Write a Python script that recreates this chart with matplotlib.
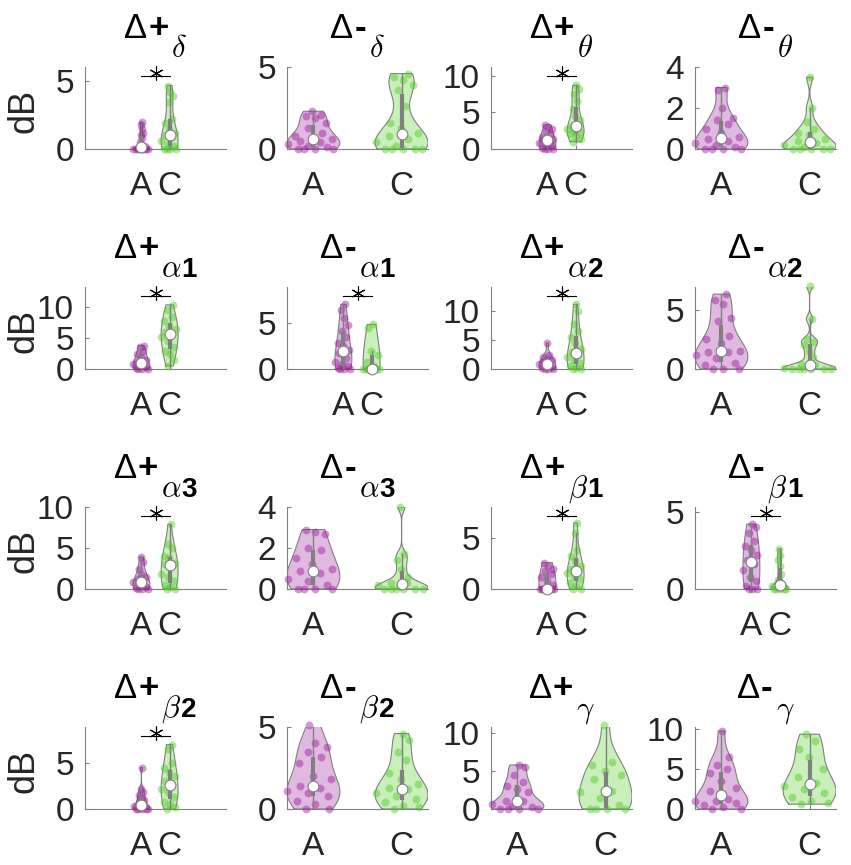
import numpy as np
import matplotlib.pyplot as plt
from matplotlib.transforms import offset_copy

plt.rcParams['font.family'] = ['Liberation Sans', 'DejaVu Sans']
plt.rcParams['mathtext.fontset'] = 'cm'

# panel labels (row-major, 4x4)
signs = ['+', '-'] * 8
greeks = [r'\delta', r'\delta', r'\theta', r'\theta', r'\alpha', r'\alpha', r'\alpha', r'\alpha',
          r'\alpha', r'\alpha', r'\beta', r'\beta', r'\beta', r'\beta', r'\gamma', r'\gamma']
digits = ['', '', '', '', '1', '1', '2', '2', '3', '3', '1', '1', '2', '2', '', '']
groups = ['A', 'C']

y_top = [6.07, 5, 11.2, 4, 13.3, 9.0, 14.2, 6.9, 10, 4, 8.06, 5.3, 8.9, 5, 10.8, 10.2]
y_ticks = [[0, 5], [0, 5], [0, 5, 10], [0, 2, 4], [0, 5, 10], [0, 5], [0, 5, 10], [0, 5],
           [0, 5, 10], [0, 2, 4], [0, 5], [0, 5], [0, 5], [0, 5], [0, 5, 10], [0, 5, 10]]
# significance bar height (None = no star)
star_y = [5.4, None, 10.0, None, 11.8, 8.0, 12.6, None, 8.9, None, 7.2, 4.7, 7.9, None, None, None]

a_vals = [
    [0, 0, 0, 0, 0, 0, 0, 0, 0.1, 0.2, 0.3, 0.5, 0.8, 1.0, 1.2, 1.5, 1.8, 2.0],
    [2.3, 2.1, 2.0, 1.9, 1.6, 1.3, 1.0, 0.8, 0.7, 0.6, 0.5, 0.4, 0.3, 0.2, 0, 0, 0, 0, 0.1],
    [3.3, 3.0, 2.8, 2.5, 2.0, 1.7, 1.5, 1.3, 1.2, 1.0, 0.8, 0.6, 0.4, 0.2, 0, 0, 0],
    [3.0, 2.9, 2.0, 1.5, 1.4, 1.2, 1.0, 0.1, 0.8, 0.6, 0.5, 0.4, 0.3, 0.2, 0, 0, 0, 0],
    [3.8, 3.5, 3.0, 2.5, 2.0, 1.5, 1.2, 1.0, 0.8, 0.5, 0.3, 0.1, 0, 0, 0],
    [7.1, 6.5, 5.6, 4.8, 4.2, 3.5, 2.8, 2.5, 2.1, 1.8, 1.2, 0.8, 0.6, 0.3, 0.1, 0, 0, 0],
    [4.5, 2.5, 2.0, 1.8, 1.5, 1.2, 1.0, 0.8, 0.6, 0.4, 0.2, 0, 0, 0],
    [6.3, 5.8, 5.5, 4.3, 4.0, 2.8, 2.5, 2.2, 1.45, 1.5, 1.4, 1.2, 0.9, 0.5, 0.3, 0, 0, 0],
    [3.9, 3.3, 2.5, 1.8, 1.5, 1.2, 1.0, 0.8, 0.5, 0.3, 0.1, 0, 0, 0],
    [2.9, 2.8, 2.7, 2.0, 1.9, 1.5, 1.2, 1.0, 0.9, 0.8, 0.5, 0.4, 0.2, 0, 0, 0, 0],
    [2.6, 2.3, 2.0, 1.8, 1.5, 1.2, 0.8, 0.4, 0, 0, 0, 0, 0, 0, 0, 0, 0],
    [4.2, 4.0, 3.6, 3.1, 2.8, 2.5, 2.2, 1.9, 1.6, 1.2, 0.8, 0.5, 0.2, 0, 0, 0],
    [4.5, 2.2, 1.8, 1.5, 1.2, 1.0, 0.8, 0.4, 0.3, 0.2, 0, 0, 0, 0, 0],
    [5.1, 4.0, 3.8, 3.5, 3.2, 2.8, 2.0, 1.8, 1.4, 1.3, 1.1, 1.0, 0.8, 0.5, 0.3, 0, 0],
    [5.8, 5.5, 4.5, 3.5, 3.0, 2.7, 2.3, 1.1, 1.0, 0.6, 0.4, 0.2, 0, 0, 0, 0],
    [9.7, 6.5, 5.5, 5.0, 4.5, 3.5, 2.6, 2.2, 1.2, 1.0, 1.0, 0.7, 0.5, 0.2, 0, 0],
]
c_vals = [
    [0, 0, 0, 0, 0.2, 0.4, 0.6, 0.9, 1.0, 1.2, 1.5, 1.9, 2.2, 3.5, 3.9, 4.2, 4.7],
    [4.6, 4.4, 4.2, 3.9, 3.6, 2.6, 1.6, 1.3, 1.0, 0.8, 0.6, 0.4, 0.2, 0, 0, 0, 0, 0],
    [8.7, 8.2, 7.5, 6.5, 5.5, 4.5, 4.0, 3.2, 3.0, 2.8, 2.5, 2.3, 2.0, 1.8, 1.3, 1.0],
    [3.5, 2.0, 1.3, 1.0, 0.8, 0.7, 0.5, 0.4, 0.3, 0.2, 0.1, 0, 0, 0, 0, 0],
    [10.4, 9.5, 8.5, 7.8, 7.0, 6.5, 6.0, 5.6, 5.2, 4.5, 3.5, 3.0, 2.5, 1.5, 0.5],
    [4.9, 4.5, 2.0, 1.5, 0.8, 0.3, 0, 0, 0, 0, 0, 0, 0],
    [11.2, 10.0, 7.8, 6.5, 5.5, 4.5, 3.5, 3.0, 2.5, 2.0, 1.5, 1.0, 0.5, 0.2, 0, 0],
    [7.0, 4.2, 2.5, 2.3, 2.0, 1.5, 1.0, 0.4, 0.3, 0.1, 0, 0, 0, 0, 0, 0],
    [7.9, 5.5, 5.0, 4.0, 3.8, 3.2, 3.0, 2.9, 1.8, 1.5, 1.0, 0.5, 0.2, 0, 0],
    [4.0, 1.7, 1.4, 1.0, 0.6, 0.3, 0.2, 0.3, 0, 0, 0, 0, 0, 0],
    [6.5, 5.5, 3.8, 3.2, 2.8, 2.3, 2.0, 1.8, 1.6, 1.3, 1.0, 0.6, 0.3, 0, 0],
    [2.6, 2.2, 1.9, 1.5, 1.0, 0.6, 0.3, 0.2, 0.1, 0, 0, 0, 0, 0],
    [7.0, 6.5, 5.0, 4.5, 4.0, 3.6, 3.0, 2.6, 2.2, 1.8, 1.3, 0.8, 0.5, 0.2, 0],
    [4.6, 4.2, 3.5, 3.0, 2.2, 1.8, 1.5, 1.3, 1.2, 1.0, 0.8, 0.6, 0.4, 0.2, 0.1, 0],
    [11.0, 6.2, 5.8, 5.0, 4.5, 4.0, 2.4, 2.3, 1.5, 0.5, 0, 0, 0, 0],
    [9.3, 8.5, 7.5, 6.5, 5.0, 4.0, 3.2, 2.9, 2.5, 2.0, 1.5, 1.0, 0.8, 0.6],
]

purple = (0.6, 0.1, 0.6)
green = (0.3, 0.8, 0.12)
grey = (0.5, 0.5, 0.5)

fig = plt.figure(figsize=(8.51, 8.65), dpi=100)
FW, FH = 851, 865
col_left = [85, 287, 491, 695]
row_base = [149, 369, 589, 809]
ax_w, ax_h = 141, 82


def violin(ax, vals, pos, color):
    v = np.sort(np.asarray(vals, float))
    n = len(v)
    # ksdensity-like bandwidth
    sig = np.median(np.abs(v - np.median(v))) / 0.6745
    if sig <= 0:
        sig = v.max() - v.min()
    bw = sig * (4 / (3 * n)) ** 0.2
    ys = np.linspace(v.min(), v.max(), 200)
    dens = np.exp(-0.5 * ((ys[:, None] - v[None, :]) / bw) ** 2).sum(axis=1)
    half = 0.3 * dens / dens.max()
    xs = np.concatenate([pos - half, (pos + half)[::-1]])
    yy = np.concatenate([ys, ys[::-1]])
    ax.fill(xs, yy, facecolor=color, alpha=0.3, edgecolor='none', zorder=1)
    ax.plot(np.append(xs, xs[0]), np.append(yy, yy[0]), color=grey, lw=0.8, zorder=2)

    # data points spread inside the violin
    w_at = np.interp(v, ys, half)
    jit = ((np.arange(n) * 0.618034 + 0.3) % 1) * 2 - 1
    ax.scatter(pos + jit * w_at, v, s=32, color=color, alpha=0.45, lw=0, zorder=3, clip_on=False)

    q1, med, q3 = np.percentile(v, [25, 50, 75])
    iqr = q3 - q1
    lo = v[v >= q1 - 1.5 * iqr].min()
    hi = v[v <= q3 + 1.5 * iqr].max()
    ax.plot([pos, pos], [lo, hi], color=grey, lw=1, zorder=4)
    ax.plot([pos, pos], [q1, q3], color=grey, lw=3, zorder=4, solid_capstyle='butt')
    ax.scatter([pos], [med], s=60, facecolor='white', edgecolor=grey, lw=0.8, zorder=5, clip_on=False)


def put_title(ax, sign, greek, digit):
    r = fig.canvas.get_renderer()
    pieces = [('Δ', dict(fontsize=25), 29, 0),
              (sign, dict(fontsize=25, fontweight='bold'), 29, 1),
              ('$' + greek + '$', dict(fontsize=22), 10, 3)]
    if digit:
        pieces.append((digit, dict(fontsize=20, fontweight='bold'), 10, 0))
    texts = []
    for s, kw, dy, gap in pieces:
        t = ax.text(0.5, 1.0, s, transform=ax.transAxes, ha='left', va='baseline', color='black', **kw)
        texts.append((t, dy, gap, t.get_window_extent(r).width))
    total = sum(w + g for _, _, g, w in texts)
    x = -total / 2
    for t, dy, gap, w in texts:
        x += gap
        t.set_transform(offset_copy(ax.transAxes, fig=fig, x=x, y=dy, units='dots'))
        x += w


for i in range(16):
    r, c = divmod(i, 4)
    ax = fig.add_axes([col_left[c] / FW, 1 - row_base[r] / FH, ax_w / FW, ax_h / FH])
    violin(ax, a_vals[i], 1, purple)
    violin(ax, c_vals[i], 2, green)

    if star_y[i] is not None:
        sy = star_y[i]
        ax.plot([1, 2], [sy, sy], color='black', lw=0.8, clip_on=False, zorder=6)
        ax.plot(1.5, sy + 0.035 * y_top[i], marker=(6, 2, 0), ms=10, mew=0.8, color='black',
                clip_on=False, zorder=6)
        ax.set_xlim(-1, 4)
    else:
        ax.set_xlim(0.7, 2.3)

    ax.set_ylim(0, y_top[i])
    ax.set_yticks(y_ticks[i])
    ax.set_xticks([1, 2])
    ax.set_xticklabels(groups)
    for s in ['top', 'right']:
        ax.spines[s].set_visible(False)
    for s in ['left', 'bottom']:
        ax.spines[s].set_color(grey)
        ax.spines[s].set_linewidth(0.8)
    ax.tick_params(direction='in', length=3, width=0.8, colors=grey, labelcolor='#262626', labelsize=24)
    ax.tick_params(axis='x', pad=16)
    ax.tick_params(axis='y', pad=8)

    if c == 0:
        ax.set_ylabel('dB', fontsize=26, color='#262626')
        ax.yaxis.set_label_coords(-0.31, 0.47)

    put_title(ax, signs[i], greeks[i], digits[i])

fig.savefig('out.png', dpi=100)
